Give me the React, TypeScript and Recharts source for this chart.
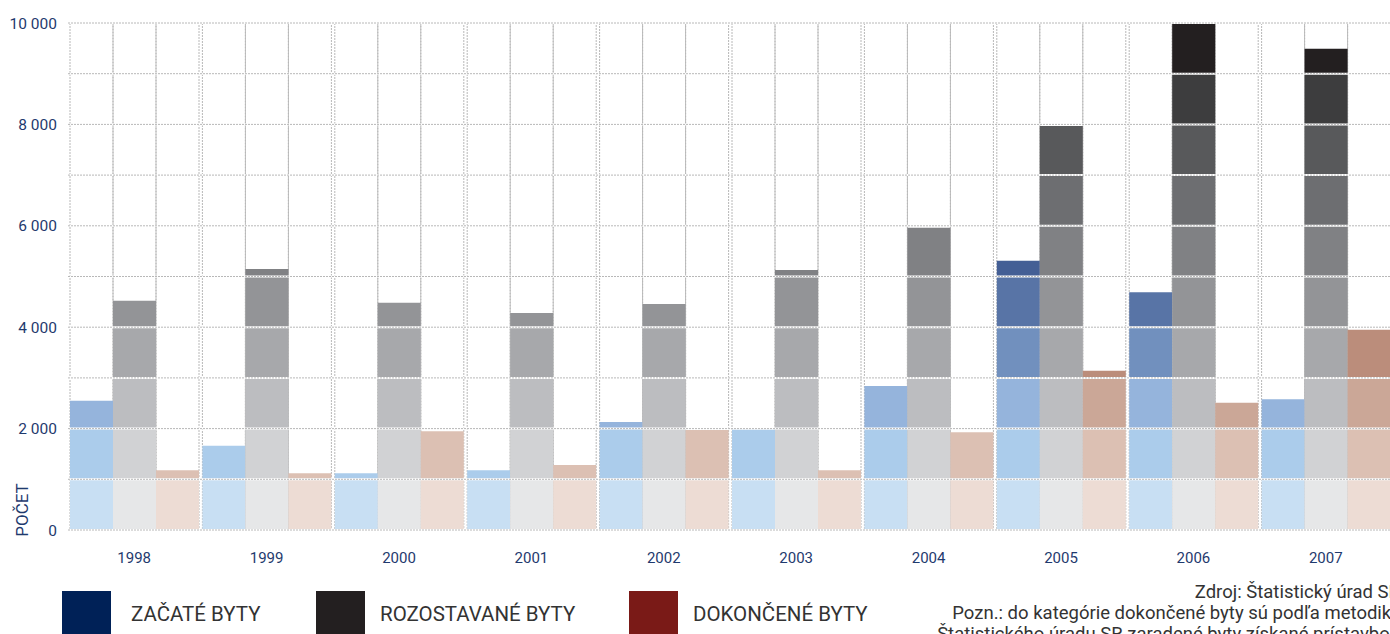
import React from 'react';
import { BarChart, Bar, XAxis, YAxis, ReferenceLine } from 'recharts';

const years = ['1998', '1999', '2000', '2001', '2002', '2003', '2004', '2005', '2006', '2007'];
const zacate = [2550, 1660, 1120, 1180, 2130, 1980, 2840, 5310, 4690, 2580];
const rozostavane = [4520, 5150, 4480, 4280, 4460, 5130, 5960, 7970, 10000, 9490];
const dokoncene = [1180, 1120, 1950, 1280, 1970, 1180, 1930, 3140, 2510, 3950];

const yTicks = [0, 2000, 4000, 6000, 8000, 10000];
const gridValues = [0, 1000, 2000, 3000, 4000, 5000, 6000, 7000, 8000, 9000, 10000];

// one shade per 1000 band, light at the bottom, dark at the top
const blueBands = ['#c8dff3', '#abcceb', '#95b4dc', '#7190be', '#5874a6', '#445f95', '#37507f', '#2b416b', '#1f3358', '#142545'];
const grayBands = ['#e6e7e8', '#d1d2d4', '#bcbdc0', '#a7a8ab', '#939497', '#808184', '#6d6e71', '#58595b', '#3d3d3e', '#231f20'];
const brownBands = ['#eddcd4', '#dcc0b3', '#cba797', '#bb8d7b', '#a97460', '#965c48', '#844533', '#722f21', '#5f1c12', '#4c0c06'];

const series = [
  { key: 'z', name: 'ZAČATÉ BYTY', values: zacate, bands: blueBands, legend: '#002157' },
  { key: 'r', name: 'ROZOSTAVANÉ BYTY', values: rozostavane, bands: grayBands, legend: '#231f20' },
  { key: 'd', name: 'DOKONČENÉ BYTY', values: dokoncene, bands: brownBands, legend: '#7a1a17' },
];

const BAND = 1000;
const bandIdx = [0, 1, 2, 3, 4, 5, 6, 7, 8, 9];

const chartData = years.map((year, i) => {
  const row: Record<string, string | number> = { year };
  series.forEach((s) => {
    bandIdx.forEach((b) => {
      row[`${s.key}${b}`] = Math.max(0, Math.min(BAND, s.values[i] - b * BAND));
    });
  });
  return row;
});

const fmt = (v: number) => String(v).replace(/\B(?=(\d{3})+(?!\d))/g, ' ');

const navy = '#1f3a6e';
const font = 'Roboto, "DejaVu Sans", sans-serif';
const dotted = { fill: 'none', stroke: '#b8b8b8', strokeWidth: 1, strokeDasharray: '2 1' };

export default function App() {
  return (
    <div style={{ position: 'absolute', left: 0, top: 0, width: 1390, height: 634, overflow: 'hidden', background: '#fff', fontFamily: font }}>
      <div style={{ position: 'absolute', left: 0, top: 0 }}>
        <BarChart
          width={1420}
          height={575}
          data={chartData}
          margin={{ top: 23, right: 28, left: 0, bottom: 0 }}
          barGap={0}
          barCategoryGap={2}
        >
          <XAxis
            dataKey="year"
            tickLine={false}
            axisLine={false}
            tickMargin={16}
            height={45}
            tick={{ fill: navy, fontSize: 15, fontFamily: font }}
          />
          <YAxis
            domain={[0, 10000]}
            ticks={yTicks}
            width={68}
            tickLine={false}
            axisLine={false}
            tickMargin={5}
            tickFormatter={fmt}
            tick={{ fill: navy, fontSize: 15.5, fontFamily: font }}
          />
          {bandIdx.map((b) =>
            series.map((s) => (
              <Bar
                key={`${s.key}${b}`}
                dataKey={`${s.key}${b}`}
                stackId={s.key}
                fill={s.bands[b]}
                isAnimationActive={false}
                background={b === 0 ? dotted : undefined}
              />
            ))
          )}
          {gridValues.map((v) => (
            <ReferenceLine key={`w${v}`} y={v} stroke="#ffffff" strokeWidth={2} />
          ))}
          {gridValues.map((v) => (
            <ReferenceLine key={`g${v}`} y={v} stroke="#b8b8b8" strokeWidth={1} strokeDasharray="2 1" />
          ))}
        </BarChart>
      </div>

      <div
        style={{
          position: 'absolute',
          left: 22,
          top: 510,
          transform: 'translate(-50%, -50%) rotate(-90deg)',
          fontSize: 17,
          color: navy,
          whiteSpace: 'nowrap',
          lineHeight: '17px',
        }}
      >
        POČET
      </div>

      {series.map((s, i) => (
        <div key={s.key} style={{ position: 'absolute', left: [62, 316, 629][i], top: 591 }}>
          <div style={{ position: 'absolute', left: 0, top: 0, width: 49, height: 49, background: s.legend }} />
          <div style={{ position: 'absolute', left: i === 0 ? 69 : 64, top: 11, fontSize: 20.5, color: '#333', whiteSpace: 'nowrap' }}>{s.name}</div>
        </div>
      ))}

      <div style={{ position: 'absolute', left: 700, top: 582, width: 700, textAlign: 'right', fontSize: 18.5, lineHeight: '21px', color: '#333', whiteSpace: 'nowrap' }}>
        <div>Zdroj: Štatistický úrad SR</div>
        <div>Pozn.: do kategórie dokončené byty sú podľa metodiky</div>
        <div>Štatistického úradu SR zaradené byty získané prístavbou</div>
      </div>
    </div>
  );
}
